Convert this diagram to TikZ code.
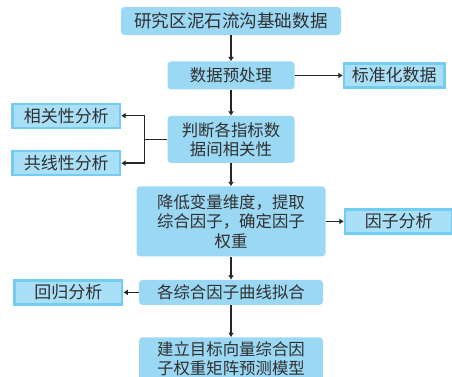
\documentclass[tikz,border=0pt]{standalone}
\usepackage{fontspec}
\setmainfont{Noto Sans CJK SC}
\usetikzlibrary{positioning, arrows.meta}
\definecolor{boxblue}{HTML}{9BD8F4}
\definecolor{sideblue}{HTML}{A9E0F7}
\definecolor{sideedge}{HTML}{72CDF3}
\definecolor{inkgray}{HTML}{303030}

\begin{document}
\begin{tikzpicture}[
    mainbox/.style={rectangle, rounded corners=3pt, fill=boxblue, text=inkgray, align=center, inner sep=0pt, font=\fontsize{14}{16.5}\selectfont},
    sidebox/.style={rectangle, fill=sideblue, draw=sideedge, line width=2pt, text=inkgray, align=center, inner sep=0pt, minimum width=3.23cm, minimum height=0.72cm, font=\fontsize{14.5}{16.5}\selectfont},
    arrow/.style={-{Latex[length=1.3mm, width=1.8mm]}, line width=1.3pt, draw=black!85}
]
\clip (0,0) rectangle (13.56,-11.31);

% Main chain
\node (source) [mainbox, minimum width=6.6cm, minimum height=0.84cm, font=\fontsize{15}{16.5}\selectfont] at (6.93,-0.63) {研究区泥石流沟基础数据};
\node (prep) [mainbox, minimum width=3.81cm, minimum height=0.84cm, below=0.78cm of source] {数据预处理};
\node (judge) [mainbox, minimum width=3.81cm, minimum height=1.41cm, below=0.78cm of prep] {判断各指标数\\据间相关性};
\node (reduce) [mainbox, minimum width=5.67cm, minimum height=2.1cm, below=0.69cm of judge] {降低变量维度，提取\\综合因子，确定因子\\权重};
\node (fit) [mainbox, minimum width=5.52cm, minimum height=0.75cm, below=0.69cm of reduce] {各综合因子曲线拟合};
\node (model) [mainbox, minimum width=5.52cm, minimum height=1.29cm, below=0.96cm of fit] {建立目标向量综合因\\子权重矩阵预测模型};

% Side results
\node (norm) [sidebox, minimum width=3.02cm, right=1.44cm of prep] {标准化数据};
\node (corr) [sidebox, left=1.38cm of judge.north west] {相关性分析};
\node (coll) [sidebox, left=1.38cm of judge.south west] {共线性分析};
\node (factor) [sidebox, right=0.54cm of reduce] {因子分析};
\node (regr) [sidebox, left=0.46cm of fit] {回归分析};
\coordinate (fork) at ([xshift=-0.69cm]judge.west);

% Arrows
\draw [arrow] (source) -- (prep);
\draw [arrow] (prep) -- (norm);
\draw [arrow] (prep) -- (judge);
\draw [arrow] (judge.west) -- (fork) |- (corr.east);
\draw [arrow] (fork) |- (coll.east);
\draw [arrow] (judge) -- (reduce);
\draw [arrow] (reduce) -- (factor);
\draw [arrow] (reduce) -- (fit);
\draw [arrow] (fit) -- (regr);
\draw [arrow] (fit) -- (model);

\end{tikzpicture}
\end{document}
